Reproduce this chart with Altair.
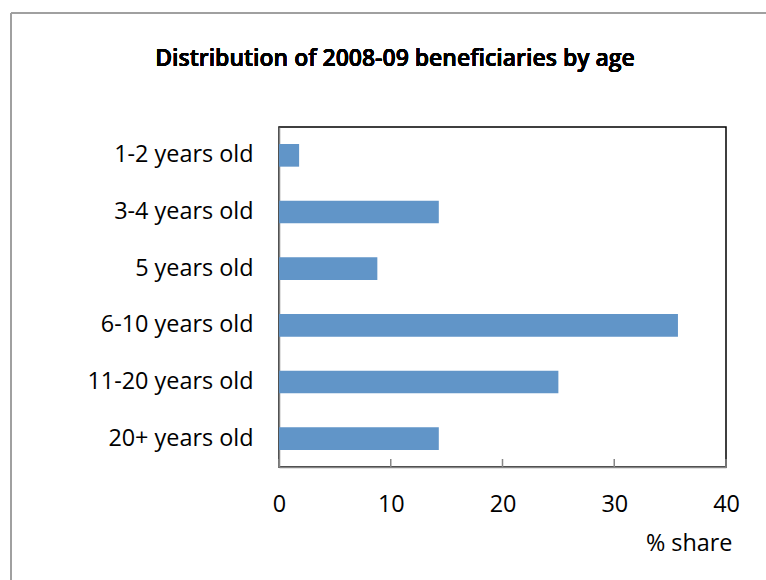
import altair as alt
import pandas as pd

# Share of 2008-09 beneficiaries in each age group (%)
age_groups = ["1-2 years old", "3-4 years old", "5 years old",
              "6-10 years old", "11-20 years old", "20+ years old"]
shares = [1.8, 14.3, 8.8, 35.7, 25.0, 14.3]
tick_values = [0, 10, 20, 30, 40]

chart_title = "Distribution of 2008-09 beneficiaries by age"
x_title = "% share"

W, H = 447, 340
LEFT, TOP = 279, 127
FONT = "Open Sans"
GREY = "#868686"
FS = 23.4
TOTAL_W, TOTAL_H = 766, 580

bars_df = pd.DataFrame({"age": age_groups, "share": shares})
ticks_df = pd.DataFrame({"tick": tick_values})

x_scale = alt.Scale(domain=[0, 40], nice=False)

bars = alt.Chart(bars_df).mark_bar(color="#6195C8").encode(
    x=alt.X("share:Q", scale=x_scale,
            axis=alt.Axis(values=tick_values, title=x_title, ticks=False,
                          domainColor=GREY, domainWidth=1.5, labelFlush=False,
                          labelFont=FONT, labelFontSize=FS, labelColor="#000",
                          labelPadding=26, grid=False,
                          titleFont=FONT, titleFontSize=FS, titleFontWeight="normal",
                          titleColor="#000", titleAnchor="end", titleAlign="right",
                          titleBaseline="alphabetic", titleX=W + 6, titleY=83)),
    y=alt.Y("age:N", sort=age_groups,
            scale=alt.Scale(paddingInner=0.6, paddingOuter=0.3),
            axis=alt.Axis(title=None, ticks=False, domainColor=GREY, domainWidth=1.5,
                          labelFont=FONT, labelFontSize=FS, labelColor="#000",
                          labelPadding=26, labelLimit=300)),
)

# Inward-pointing tick marks along the bottom axis
ticks = alt.Chart(ticks_df).mark_rule(color=GREY, strokeWidth=1.5).encode(
    x=alt.X("tick:Q", scale=x_scale),
    y=alt.value(H - 8),
    y2=alt.value(H),
)

# Chart heading
heading = alt.Chart(bars_df).mark_text(
    text=chart_title, font=FONT, fontSize=23, fontWeight=600,
    color="#000", align="center", baseline="alphabetic",
).encode(x=alt.value(395 - LEFT), y=alt.value(66 - TOP))

# Outer frame edges (top and left) around the whole figure
frame_top = alt.Chart(bars_df).mark_rule(color="#A0A0A0", strokeWidth=2).encode(
    x=alt.value(11 - LEFT), x2=alt.value(TOTAL_W - LEFT), y=alt.value(13 - TOP),
)
frame_left = alt.Chart(bars_df).mark_rule(color="#A0A0A0", strokeWidth=2).encode(
    x=alt.value(11 - LEFT), y=alt.value(13 - TOP), y2=alt.value(TOTAL_H - TOP),
)

chart = alt.layer(frame_top, frame_left, bars, ticks, heading).properties(
    width=W, height=H,
    autosize=alt.AutoSizeParams(type="none"),
    padding={"left": LEFT, "top": TOP,
             "right": TOTAL_W - LEFT - W, "bottom": TOTAL_H - TOP - H},
    background="white",
).configure_view(stroke="#000", strokeWidth=1.5)

chart.save("out.html", embed_options={"renderer": "svg", "actions": False})
